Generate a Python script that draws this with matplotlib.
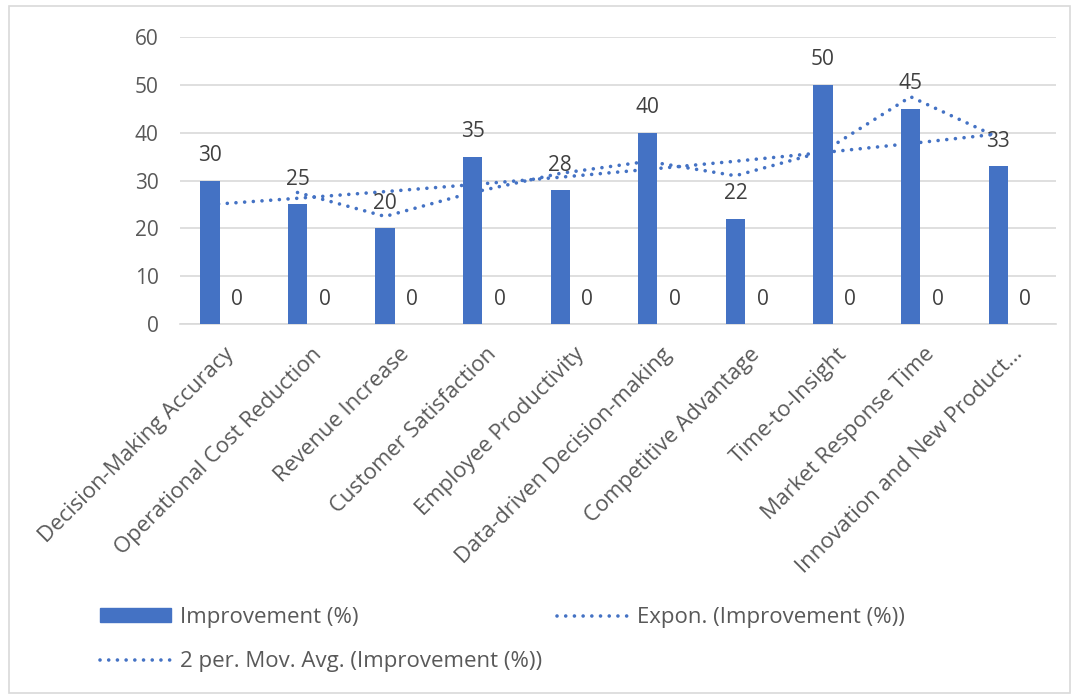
import numpy as np
import matplotlib
matplotlib.use("Agg")
from matplotlib import pyplot as plt
from matplotlib.patches import Rectangle
from matplotlib.lines import Line2D

plt.rcParams["font.family"] = ["Open Sans", "DejaVu Sans"]

categories = [
    "Decision-Making Accuracy",
    "Operational Cost Reduction",
    "Revenue Increase",
    "Customer Satisfaction",
    "Employee Productivity",
    "Data-driven Decision-making",
    "Competitive Advantage",
    "Time-to-Insight",
    "Market Response Time",
    "Innovation and New Product...",
]
improvement = [30, 25, 20, 35, 28, 40, 22, 50, 45, 33]
second_series = [0, 0, 0, 0, 0, 0, 0, 0, 0, 0]
y_ticks = [0, 10, 20, 30, 40, 50, 60]

blue = "#4472C4"
grey_text = "#595959"
label_text = "#404040"
grid = "#d9d9d9"

fig = plt.figure(figsize=(10.76, 6.97), dpi=100)
ax = fig.add_axes([0.167, 0.535, 0.814, 0.412])

x = np.arange(len(categories))
off = 0.155
w = 0.22

ax.bar(x - off, improvement, width=w, color=blue, zorder=3)
ax.bar(x + off, second_series, width=w, color=blue, zorder=3)

# value labels above the bars
for xi, v in zip(x, improvement):
    ax.annotate(str(v), (xi - off, v), xytext=(0, 18), textcoords="offset points",
                ha="center", va="center", fontsize=15, color=label_text, zorder=5)
for xi, v in zip(x, second_series):
    ax.annotate(str(v), (xi + off, v), xytext=(0, 18), textcoords="offset points",
                ha="center", va="center", fontsize=15, color=label_text, zorder=5)

# exponential trendline, fitted on log values
pos = np.arange(1, len(improvement) + 1)
b, ln_a = np.polyfit(pos, np.log(improvement), 1)
expon = np.exp(ln_a + b * pos)
dots = dict(color=blue, linewidth=2.6, linestyle=(0, (0.01, 2.4)),
            dash_capstyle="round", zorder=4)
ax.plot(x - off, expon, **dots)

# two period moving average
vals = np.array(improvement, dtype=float)
mov = (vals[1:] + vals[:-1]) / 2
ax.plot(x[1:] - off, mov, **dots)

ax.set_xlim(-0.5, len(categories) - 0.5)
ax.set_ylim(0, 60)
ax.set_yticks(y_ticks)
ax.yaxis.grid(True, color=grid, linewidth=1.2, zorder=0)
ax.set_axisbelow(True)
for s in ["top", "right", "left"]:
    ax.spines[s].set_visible(False)
ax.spines["bottom"].set_color(grid)
ax.spines["bottom"].set_linewidth(1.2)
ax.tick_params(axis="y", length=0, labelsize=15, colors=grey_text, pad=15)
ax.set_xticks(x)
ax.set_xticklabels(categories, rotation=45, ha="right", va="top",
                   rotation_mode="anchor")
ax.tick_params(axis="x", length=0, labelsize=15.8, colors=grey_text, pad=14)

# legend below the chart
h_bar = Rectangle((0, 0), 1, 1, color=blue)
h_line = Line2D([], [], **dots)
leg = fig.legend([h_bar, h_line, h_line],
                 ["Improvement (%)", "2 per. Mov. Avg. (Improvement (%))",
                  "Expon. (Improvement (%))"],
                 ncol=2, loc="upper left", bbox_to_anchor=(0.074, 0.158),
                 frameon=False, fontsize=16, handlelength=3.2, handleheight=0.55,
                 columnspacing=0.7, labelspacing=1.05, handletextpad=0.4)
for t in leg.get_texts():
    t.set_color(grey_text)

# chart area border
fig.patches.append(Rectangle((0.008, 0.006), 0.986, 0.986, transform=fig.transFigure,
                             fill=False, edgecolor=grid, linewidth=1.2))

fig.savefig("out.png", dpi=100)
